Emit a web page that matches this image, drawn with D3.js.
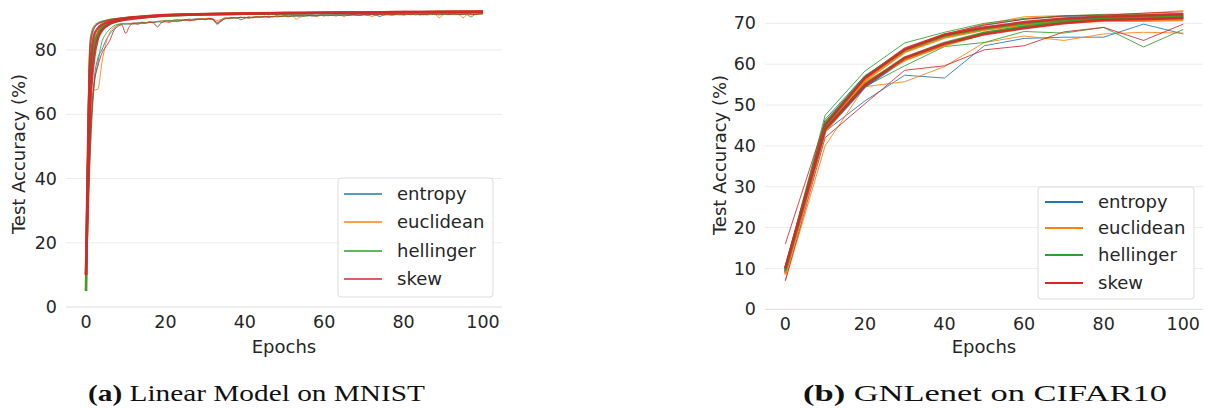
<!DOCTYPE html>
<html>
<head>
<meta charset="utf-8">
<script src="https://cdn.jsdelivr.net/npm/d3@7"></script>
<style>
  body { margin: 0; background: #fff; }
  svg { display: block; }
  .tick-label { font-family: "DejaVu Sans", sans-serif; font-size: 17.5px; fill: #262626; }
  .axis-title { font-family: "DejaVu Sans", sans-serif; font-size: 18px; fill: #262626; }
  .legend-text { font-family: "DejaVu Sans", sans-serif; font-size: 18px; fill: #262626; }
  .caption { font-family: "Liberation Serif", "DejaVu Serif", serif; font-size: 23px; fill: #111; }
</style>
</head>
<body>
<div class="chart"></div>
<script>
var svgWidth = 1208;
var svgHeight = 409;

var methods = ["entropy", "euclidean", "hellinger", "skew"];
var colors = ["#1f77b4", "#ff7f0e", "#2ca02c", "#d62728"];

// ---- (a) Linear Model on MNIST ----
var mnistEpochs = d3.range(0, 101);
var mnistSmoothEpochs = [0, 1, 2, 3, 4, 5, 6, 8, 10, 15, 20, 30, 40, 50, 60, 70, 80, 90, 100];
var mnistYTicks = [0, 20, 40, 60, 80];
var mnistXTicks = [0, 20, 40, 60, 80, 100];

// noisy thin runs, one value per epoch
var mnistEntropyRun = [10, 48, 70, 77.5, 80, 83, 85, 86.5, 87.8, 88.0,
  88.2, 88.0, 88.4, 88.3, 88.6, 88.5, 88.8, 88.6, 88.9, 89.0,
  89.2, 88.9, 89.3, 89.4, 89.1, 89.5, 89.3, 89.6, 89.7, 89.5,
  89.8, 89.6, 89.4, 88.6, 89.3, 89.9, 89.8, 90.0, 90.1, 89.4,
  89.9, 90.2, 90.0, 90.3, 90.2, 90.4, 90.1, 90.5, 90.3, 90.4,
  90.6, 90.4, 90.5, 90.7, 90.3, 90.6, 90.8, 90.5, 90.7, 90.8,
  90.6, 90.9, 90.7, 90.8, 90.9, 90.6, 90.9, 91.0, 90.8, 90.9,
  91.0, 90.8, 91.0, 90.9, 90.4, 91.0, 91.1, 90.9, 91.0, 91.1,
  90.9, 91.1, 91.0, 91.2, 90.9, 91.1, 91.0, 91.2, 91.1, 90.9,
  91.2, 91.0, 91.1, 91.2, 91.0, 91.1, 91.2, 91.0, 91.1, 91.3, 91.2];
var mnistEuclideanRun = [5, 55, 67.5, 67.8, 76, 82, 85.5, 87, 87.6, 88.1,
  88.3, 88.1, 88.5, 88.4, 88.7, 88.6, 88.5, 88.9, 88.8, 89.1,
  89.0, 89.3, 89.1, 89.4, 89.5, 89.2, 89.6, 89.5, 89.7, 89.6,
  89.8, 89.9, 89.7, 89.2, 89.5, 90.0, 89.8, 90.1, 90.0, 90.2,
  90.1, 89.8, 90.2, 90.4, 90.2, 90.3, 90.5, 90.3, 90.4, 90.6,
  90.5, 90.3, 90.6, 89.6, 90.4, 90.7, 90.6, 90.8, 90.5, 90.7,
  90.8, 90.6, 90.9, 90.7, 90.8, 90.5, 90.9, 90.8, 91.0, 90.7,
  90.9, 91.0, 90.4, 90.9, 91.0, 90.8, 91.1, 90.9, 91.0, 91.1,
  90.9, 91.1, 91.0, 91.2, 91.0, 91.1, 90.9, 91.1, 91.0, 90.0,
  91.1, 91.2, 91.0, 91.1, 91.0, 90.0, 91.1, 91.2, 91.0, 91.1, 91.3];
var mnistHellingerRun = [5, 45, 68, 76, 82.5, 85, 86.5, 87.5, 88.0, 88.2,
  88.0, 88.3, 88.1, 88.5, 88.3, 88.4, 88.7, 88.5, 88.8, 88.6,
  89.0, 89.2, 89.0, 89.3, 89.1, 89.4, 89.6, 89.3, 89.5, 89.7,
  89.4, 89.7, 89.5, 88.0, 88.9, 89.8, 90.0, 89.9, 90.1, 90.0,
  90.2, 90.0, 90.3, 90.1, 90.4, 90.2, 90.5, 90.3, 90.6, 90.4,
  90.5, 90.7, 90.4, 90.6, 90.8, 90.5, 90.7, 90.9, 90.6, 90.8,
  90.7, 90.9, 90.8, 90.6, 90.9, 91.0, 90.7, 90.9, 91.0, 90.8,
  91.0, 90.9, 91.1, 90.8, 91.0, 91.1, 90.9, 91.0, 91.1, 90.9,
  91.1, 91.0, 91.2, 90.9, 91.1, 91.0, 91.2, 91.0, 91.1, 91.2,
  91.0, 91.1, 91.2, 91.0, 91.1, 91.2, 91.0, 90.3, 91.1, 91.2, 91.3];
var mnistSkewRun = [10, 50, 69, 75, 79, 81, 83, 86, 87.3, 87.8,
  85.2, 87.5, 88.2, 88.0, 88.4, 88.3, 88.6, 88.4, 87.2, 88.5,
  88.8, 88.6, 89.0, 88.8, 89.2, 89.4, 89.1, 89.3, 89.5, 89.7,
  89.5, 89.8, 89.6, 88.3, 89.0, 89.7, 89.9, 90.1, 89.9, 90.2,
  90.0, 90.3, 90.1, 90.4, 90.2, 90.5, 90.3, 90.4, 90.6, 90.5,
  90.7, 90.5, 90.8, 90.6, 90.7, 90.9, 90.7, 90.8, 90.6, 90.9,
  91.0, 90.8, 90.9, 91.1, 90.8, 91.0, 90.9, 91.1, 91.0, 90.9,
  91.1, 91.0, 91.2, 91.0, 91.1, 90.9, 91.2, 91.0, 91.1, 91.2,
  91.0, 91.2, 91.1, 91.3, 91.1, 91.0, 91.2, 91.3, 91.1, 91.2,
  91.3, 91.1, 91.2, 91.3, 91.1, 91.2, 91.3, 91.2, 91.1, 91.3, 91.4];

// smoother thin runs (upper envelope), at mnistSmoothEpochs
var mnistEntropyUpper = [10, 80, 86.5, 88, 88.6, 89, 89.3, 89.7, 90, 90.5, 90.8, 91.1, 91.3, 91.4, 91.5, 91.6, 91.6, 91.7, 91.8];
var mnistEuclideanUpper = [5, 82, 87, 88.3, 88.8, 89.2, 89.5, 89.8, 90.1, 90.6, 90.9, 91.2, 91.4, 91.5, 91.6, 91.6, 91.7, 91.7, 91.8];
var mnistHellingerUpper = [5, 83, 87.5, 88.5, 89, 89.3, 89.6, 89.9, 90.2, 90.6, 90.9, 91.2, 91.4, 91.5, 91.6, 91.7, 91.7, 91.8, 91.9];
var mnistSkewUpper = [10, 81, 86.8, 88.2, 88.7, 89.1, 89.4, 89.8, 90.1, 90.5, 90.8, 91.1, 91.3, 91.4, 91.5, 91.6, 91.7, 91.7, 91.8];

// thick mean curves, at mnistSmoothEpochs
var mnistEntropyMean = [10, 66, 80, 84.5, 86.5, 87.6, 88.3, 89.1, 89.6, 90.3, 90.7, 91.1, 91.3, 91.4, 91.5, 91.6, 91.7, 91.7, 91.8];
var mnistEuclideanMean = [5, 70, 82, 85.5, 87.2, 88.1, 88.6, 89.3, 89.8, 90.4, 90.8, 91.1, 91.3, 91.5, 91.6, 91.6, 91.7, 91.8, 91.8];
var mnistHellingerMean = [5, 68, 81, 85, 87, 88, 88.5, 89.2, 89.7, 90.3, 90.7, 91.1, 91.3, 91.4, 91.5, 91.6, 91.7, 91.8, 91.8];
var mnistSkewMean = [10, 60, 77, 83.5, 86, 87.3, 88.1, 89, 89.5, 90.2, 90.7, 91.1, 91.3, 91.5, 91.6, 91.7, 91.8, 91.9, 92];
var mnistSkewMean2 = [10, 74, 84.5, 86.8, 87.9, 88.5, 88.9, 89.5, 89.9, 90.5, 90.9, 91.2, 91.4, 91.5, 91.6, 91.7, 91.8, 91.8, 91.9];

// ---- (b) GNLenet on CIFAR10 ----
var cifarEpochs = [0, 10, 20, 30, 40, 50, 60, 70, 80, 90, 100];
var cifarYTicks = [0, 10, 20, 30, 40, 50, 60, 70];
var cifarXTicks = [0, 20, 40, 60, 80, 100];

var cifarEntropyLow = [9, 43.5, 51, 57.3, 56.6, 64.5, 66.3, 66.6, 66.6, 69.8, 67.4];
var cifarEuclideanLow = [7, 40, 54.5, 55.7, 59.4, 65.3, 66.9, 65.8, 67.4, 67.8, 67.6];
var cifarHellingerLow = [9, 44, 54.5, 59.6, 64.3, 65.3, 68, 67.6, 69, 64.2, 68.5];
var cifarSkewLow = [7, 42, 50.3, 58.5, 59.6, 63.5, 64.5, 67.9, 69, 65.8, 69.8];

var cifarEntropyHigh = [9.5, 46.5, 57.2, 63.4, 67, 69.5, 71, 71.7, 71.8, 72, 72.2];
var cifarEuclideanHigh = [9, 45.5, 56.8, 63.8, 67.2, 69.8, 71.6, 71.9, 72, 72.4, 73.1];
var cifarHellingerHigh = [10, 47.5, 58.3, 65.2, 67.8, 70, 71.2, 71.8, 72.2, 72.2, 72.4];
var cifarSkewHigh = [16, 46, 57, 64, 67.4, 69.6, 71, 71.8, 72, 72.5, 72.8];

var cifarEntropyMeanA = [9.5, 45, 56.5, 63.2, 66.8, 68.6, 69.9, 70.9, 71.4, 71.7, 71.8];
var cifarEuclideanMeanA = [9, 44.5, 56, 63, 66.5, 68.4, 69.7, 70.8, 71.2, 71.5, 71.6];
var cifarHellingerMeanA = [10, 45.5, 56.8, 63.5, 67, 68.8, 70, 71, 71.5, 71.8, 72];
var cifarSkewMeanA = [10, 45, 56.6, 63.6, 67.2, 69, 70.3, 71.2, 71.6, 71.9, 72.2];

var cifarEntropyMeanB = [9, 43.8, 54.5, 61.2, 64.8, 67.5, 69, 70.2, 70.9, 71.1, 71.2];
var cifarEuclideanMeanB = [8.5, 43.5, 55.5, 61, 64.6, 67.5, 69, 70.2, 70.6, 70.6, 70.8];
var cifarHellingerMeanB = [9.5, 44.2, 55, 61.6, 65.2, 67.7, 69.2, 70.4, 71.1, 71.2, 71.5];
var cifarSkewMeanB = [10, 44, 54.8, 61.5, 65, 67.3, 68.8, 70, 70.8, 71, 71.3];

var svg = d3.select(".chart")
  .append("svg")
  .attr("width", svgWidth)
  .attr("height", svgHeight);

function zipLine(xs, ys, color, width) {
  return { pts: xs.map((x, i) => [x, ys[i]]), color: color, width: width };
}

var mnistLines = [];
[mnistEntropyRun, mnistEuclideanRun, mnistHellingerRun, mnistSkewRun].forEach(function(ys, i) {
  mnistLines.push(zipLine(mnistEpochs, ys, colors[i], 1));
});
[mnistEntropyUpper, mnistEuclideanUpper, mnistHellingerUpper, mnistSkewUpper].forEach(function(ys, i) {
  mnistLines.push(zipLine(mnistSmoothEpochs, ys, colors[i], 1));
});
[mnistEntropyMean, mnistEuclideanMean, mnistHellingerMean, mnistSkewMean, mnistSkewMean2].forEach(function(ys, i) {
  mnistLines.push(zipLine(mnistSmoothEpochs, ys, colors[Math.min(i, 3)], 2.5));
});

var cifarLines = [];
[cifarEntropyLow, cifarEuclideanLow, cifarHellingerLow, cifarSkewLow,
 cifarEntropyHigh, cifarEuclideanHigh, cifarHellingerHigh, cifarSkewHigh].forEach(function(ys, i) {
  cifarLines.push(zipLine(cifarEpochs, ys, colors[i % 4], 1));
});
[cifarEntropyMeanA, cifarEuclideanMeanA, cifarHellingerMeanA, cifarSkewMeanA,
 cifarEntropyMeanB, cifarEuclideanMeanB, cifarHellingerMeanB, cifarSkewMeanB].forEach(function(ys, i) {
  cifarLines.push(zipLine(cifarEpochs, ys, colors[i % 4], 2.5));
});

drawPanel({
  x0: 86, x1: 483, gridLeft: 66, gridRight: 502,
  yBottom: 307, yTop: 50, yTopValue: 80,
  yTicks: mnistYTicks, xTicks: mnistXTicks,
  lines: mnistLines, curve: d3.curveMonotoneX,
  ylabelX: 25, ylabelY: 154, xlabelY: 353,
  legend: { left: 338, top: 178, w: 155, h: 119, rows: [194, 222, 251, 279], lineX: 344, textX: 397, lw: 1.5 }
});

drawPanel({
  x0: 785.3, x1: 1183.3, gridLeft: 765, gridRight: 1203,
  yBottom: 309.3, yTop: 23.3, yTopValue: 70,
  yTicks: cifarYTicks, xTicks: cifarXTicks,
  lines: cifarLines, curve: d3.curveLinear,
  ylabelX: 726, ylabelY: 155, xlabelY: 353,
  legend: { left: 1038, top: 187, w: 156, h: 112, rows: [202, 228, 255, 283], lineX: 1045, textX: 1098, lw: 2 }
});

// captions
function caption(x, len, tag, rest) {
  var t = svg.append("text")
    .attr("class", "caption")
    .attr("x", x)
    .attr("y", 401)
    .attr("textLength", len)
    .attr("lengthAdjust", "spacingAndGlyphs");
  t.append("tspan").attr("font-weight", "bold").text(tag);
  t.append("tspan").text(" " + rest);
}
caption(88, 337, "(a)", "Linear Model on MNIST");
caption(803, 364, "(b)", "GNLenet on CIFAR10");

function drawPanel(cfg) {
  var x = d3.scaleLinear().domain([0, 100]).range([cfg.x0, cfg.x1]);
  var y = d3.scaleLinear().domain([0, cfg.yTopValue]).range([cfg.yBottom, cfg.yTop]);
  var g = svg.append("g");

  // horizontal grid
  g.selectAll(".grid")
    .data(cfg.yTicks)
    .enter().append("line")
    .attr("x1", cfg.gridLeft)
    .attr("x2", cfg.gridRight)
    .attr("y1", d => y(d))
    .attr("y2", d => y(d))
    .attr("stroke", d => d === 0 ? "#dddddd" : "#ececec")
    .attr("stroke-width", 1);

  // tick labels
  g.selectAll(".ytick")
    .data(cfg.yTicks)
    .enter().append("text")
    .attr("class", "tick-label")
    .attr("x", cfg.gridLeft - 9)
    .attr("y", d => y(d))
    .attr("dy", "0.35em")
    .attr("text-anchor", "end")
    .text(d => d);

  g.selectAll(".xtick")
    .data(cfg.xTicks)
    .enter().append("text")
    .attr("class", "tick-label")
    .attr("x", d => x(d))
    .attr("y", cfg.yBottom + 21)
    .attr("text-anchor", "middle")
    .text(d => d);

  var line = d3.line()
    .x(d => x(d[0]))
    .y(d => y(d[1]))
    .curve(cfg.curve);

  g.selectAll(".run")
    .data(cfg.lines)
    .enter().append("path")
    .attr("d", d => line(d.pts))
    .attr("fill", "none")
    .attr("stroke", d => d.color)
    .attr("stroke-width", d => d.width)
    .attr("stroke-opacity", d => d.width > 1 ? 0.9 : 0.85)
    .attr("stroke-linejoin", "round");

  // axis titles
  g.append("text")
    .attr("class", "axis-title")
    .attr("transform", `translate(${cfg.ylabelX}, ${cfg.ylabelY}) rotate(-90)`)
    .attr("text-anchor", "middle")
    .text("Test Accuracy (%)");

  g.append("text")
    .attr("class", "axis-title")
    .attr("x", (cfg.gridLeft + cfg.gridRight) / 2)
    .attr("y", cfg.xlabelY)
    .attr("text-anchor", "middle")
    .text("Epochs");

  // legend
  var L = cfg.legend;
  g.append("rect")
    .attr("x", L.left)
    .attr("y", L.top)
    .attr("width", L.w)
    .attr("height", L.h)
    .attr("rx", 3)
    .attr("fill", "#fff")
    .attr("fill-opacity", 0.85)
    .attr("stroke", "#dcdcdc");

  var item = g.selectAll(".legend-item")
    .data(methods)
    .enter().append("g")
    .attr("transform", (d, i) => `translate(0, ${L.rows[i]})`);

  item.append("line")
    .attr("x1", L.lineX)
    .attr("x2", L.lineX + 38)
    .attr("stroke", (d, i) => colors[i])
    .attr("stroke-width", L.lw);

  item.append("text")
    .attr("class", "legend-text")
    .attr("x", L.textX)
    .attr("dy", "0.35em")
    .text(d => d);
}
</script>
</body>
</html>
